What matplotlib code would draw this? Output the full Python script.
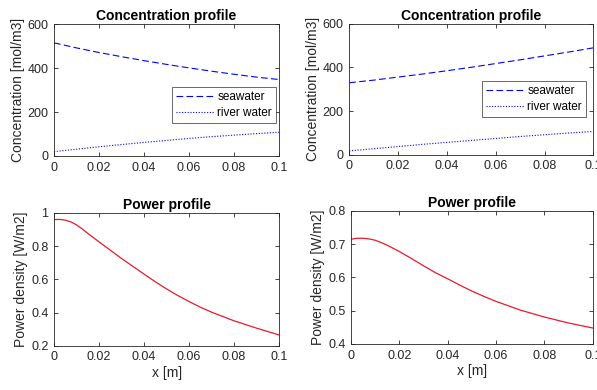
import matplotlib.pyplot as plt
import numpy as np

plt.rcParams['font.family'] = ['Liberation Sans', 'DejaVu Sans']

# concentration profiles, read at every 0.01 m
xc = [0, 0.01, 0.02, 0.03, 0.04, 0.05, 0.06, 0.07, 0.08, 0.09, 0.1]
sea_left = [515, 492, 471, 452, 434, 417, 401, 386, 372, 359, 348]
river_left = [20, 31, 42, 52, 62, 71, 80, 88, 95, 102, 108]
sea_right = [330, 342, 356, 370, 385, 401, 418, 435, 453, 471, 490]
river_right = [18, 28, 38, 48, 57, 66, 75, 84, 92, 100, 107]

# power profiles, read more densely where the curve bends
xp = [0, 0.0025, 0.005, 0.0075, 0.01, 0.0125, 0.015, 0.02, 0.025, 0.03, 0.035, 0.04,
      0.045, 0.05, 0.055, 0.06, 0.065, 0.07, 0.08, 0.09, 0.1]
power_left = [0.96, 0.961, 0.957, 0.946, 0.928, 0.904, 0.877, 0.826, 0.776, 0.726, 0.679, 0.632,
              0.586, 0.543, 0.503, 0.467, 0.433, 0.403, 0.351, 0.307, 0.266]
power_right = [0.715, 0.718, 0.718, 0.716, 0.712, 0.705, 0.697, 0.678, 0.657, 0.635, 0.614, 0.596,
               0.577, 0.559, 0.543, 0.528, 0.515, 0.502, 0.481, 0.463, 0.448]

xticks = [0, 0.02, 0.04, 0.06, 0.08, 0.1]
xticklabels = ['0', '0.02', '0.04', '0.06', '0.08', '0.1']

fig = plt.figure(figsize=(5.97, 3.9), dpi=100)
grey = '#262626'


def style(ax):
    ax.set_xlim(0, 0.1)
    ax.set_xticks(xticks)
    ax.set_xticklabels(xticklabels)
    ax.tick_params(direction='in', top=True, right=True, labelsize=9,
                   colors=grey, length=3, width=0.6, pad=4)
    for s in ax.spines.values():
        s.set_color(grey)
        s.set_linewidth(0.6)


def conc(ax, sea, river, leg_anchor):
    ax.plot(xc, sea, color='#0000ff', linestyle=(0, (6, 3)), linewidth=0.8, label='seawater')
    ax.plot(xc, river, color='#0000ff', linestyle=(0, (1, 1.5)), linewidth=0.8, label='river water')
    ax.set_ylim(0, 600)
    ax.set_yticks([0, 200, 400, 600])
    style(ax)
    ax.set_title('Concentration profile', fontsize=10, fontweight='bold', pad=3)
    ax.set_ylabel('Concentration [mol/m3]', fontsize=10, color=grey, labelpad=2)
    leg = ax.legend(loc='lower right', bbox_to_anchor=leg_anchor, fontsize=8.5,
                    frameon=True, fancybox=False, handlelength=3.2, borderpad=0.35,
                    labelspacing=0.3, handletextpad=0.3, borderaxespad=0)
    leg.get_frame().set_edgecolor(grey)
    leg.get_frame().set_linewidth(0.6)


def power(ax, p, ylim, yticks, yticklabels):
    ax.plot(xp, p, color='#e8192c', linewidth=0.9)
    ax.set_ylim(*ylim)
    ax.set_yticks(yticks)
    ax.set_yticklabels(yticklabels)
    style(ax)
    ax.set_title('Power profile', fontsize=10, fontweight='bold', pad=3)
    ax.set_ylabel('Power density [W/m2]', fontsize=10, color=grey, labelpad=2)
    ax.set_xlabel('x [m]', fontsize=10, color=grey, labelpad=2)


ax1 = fig.add_axes([0.0905, 0.600, 0.377, 0.338])
conc(ax1, sea_left, river_left, (0.987, 0.25))

ax2 = fig.add_axes([0.585, 0.603, 0.409, 0.336])
conc(ax2, sea_right, river_right, (0.97, 0.29))

ax3 = fig.add_axes([0.0905, 0.113, 0.377, 0.341])
power(ax3, power_left, (0.2, 1.0), [0.2, 0.4, 0.6, 0.8, 1.0], ['0.2', '0.4', '0.6', '0.8', '1'])

ax4 = fig.add_axes([0.588, 0.118, 0.405, 0.341])
power(ax4, power_right, (0.4, 0.8), [0.4, 0.5, 0.6, 0.7, 0.8], ['0.4', '0.5', '0.6', '0.7', '0.8'])

fig.savefig('out.png', dpi=100, facecolor='white')
